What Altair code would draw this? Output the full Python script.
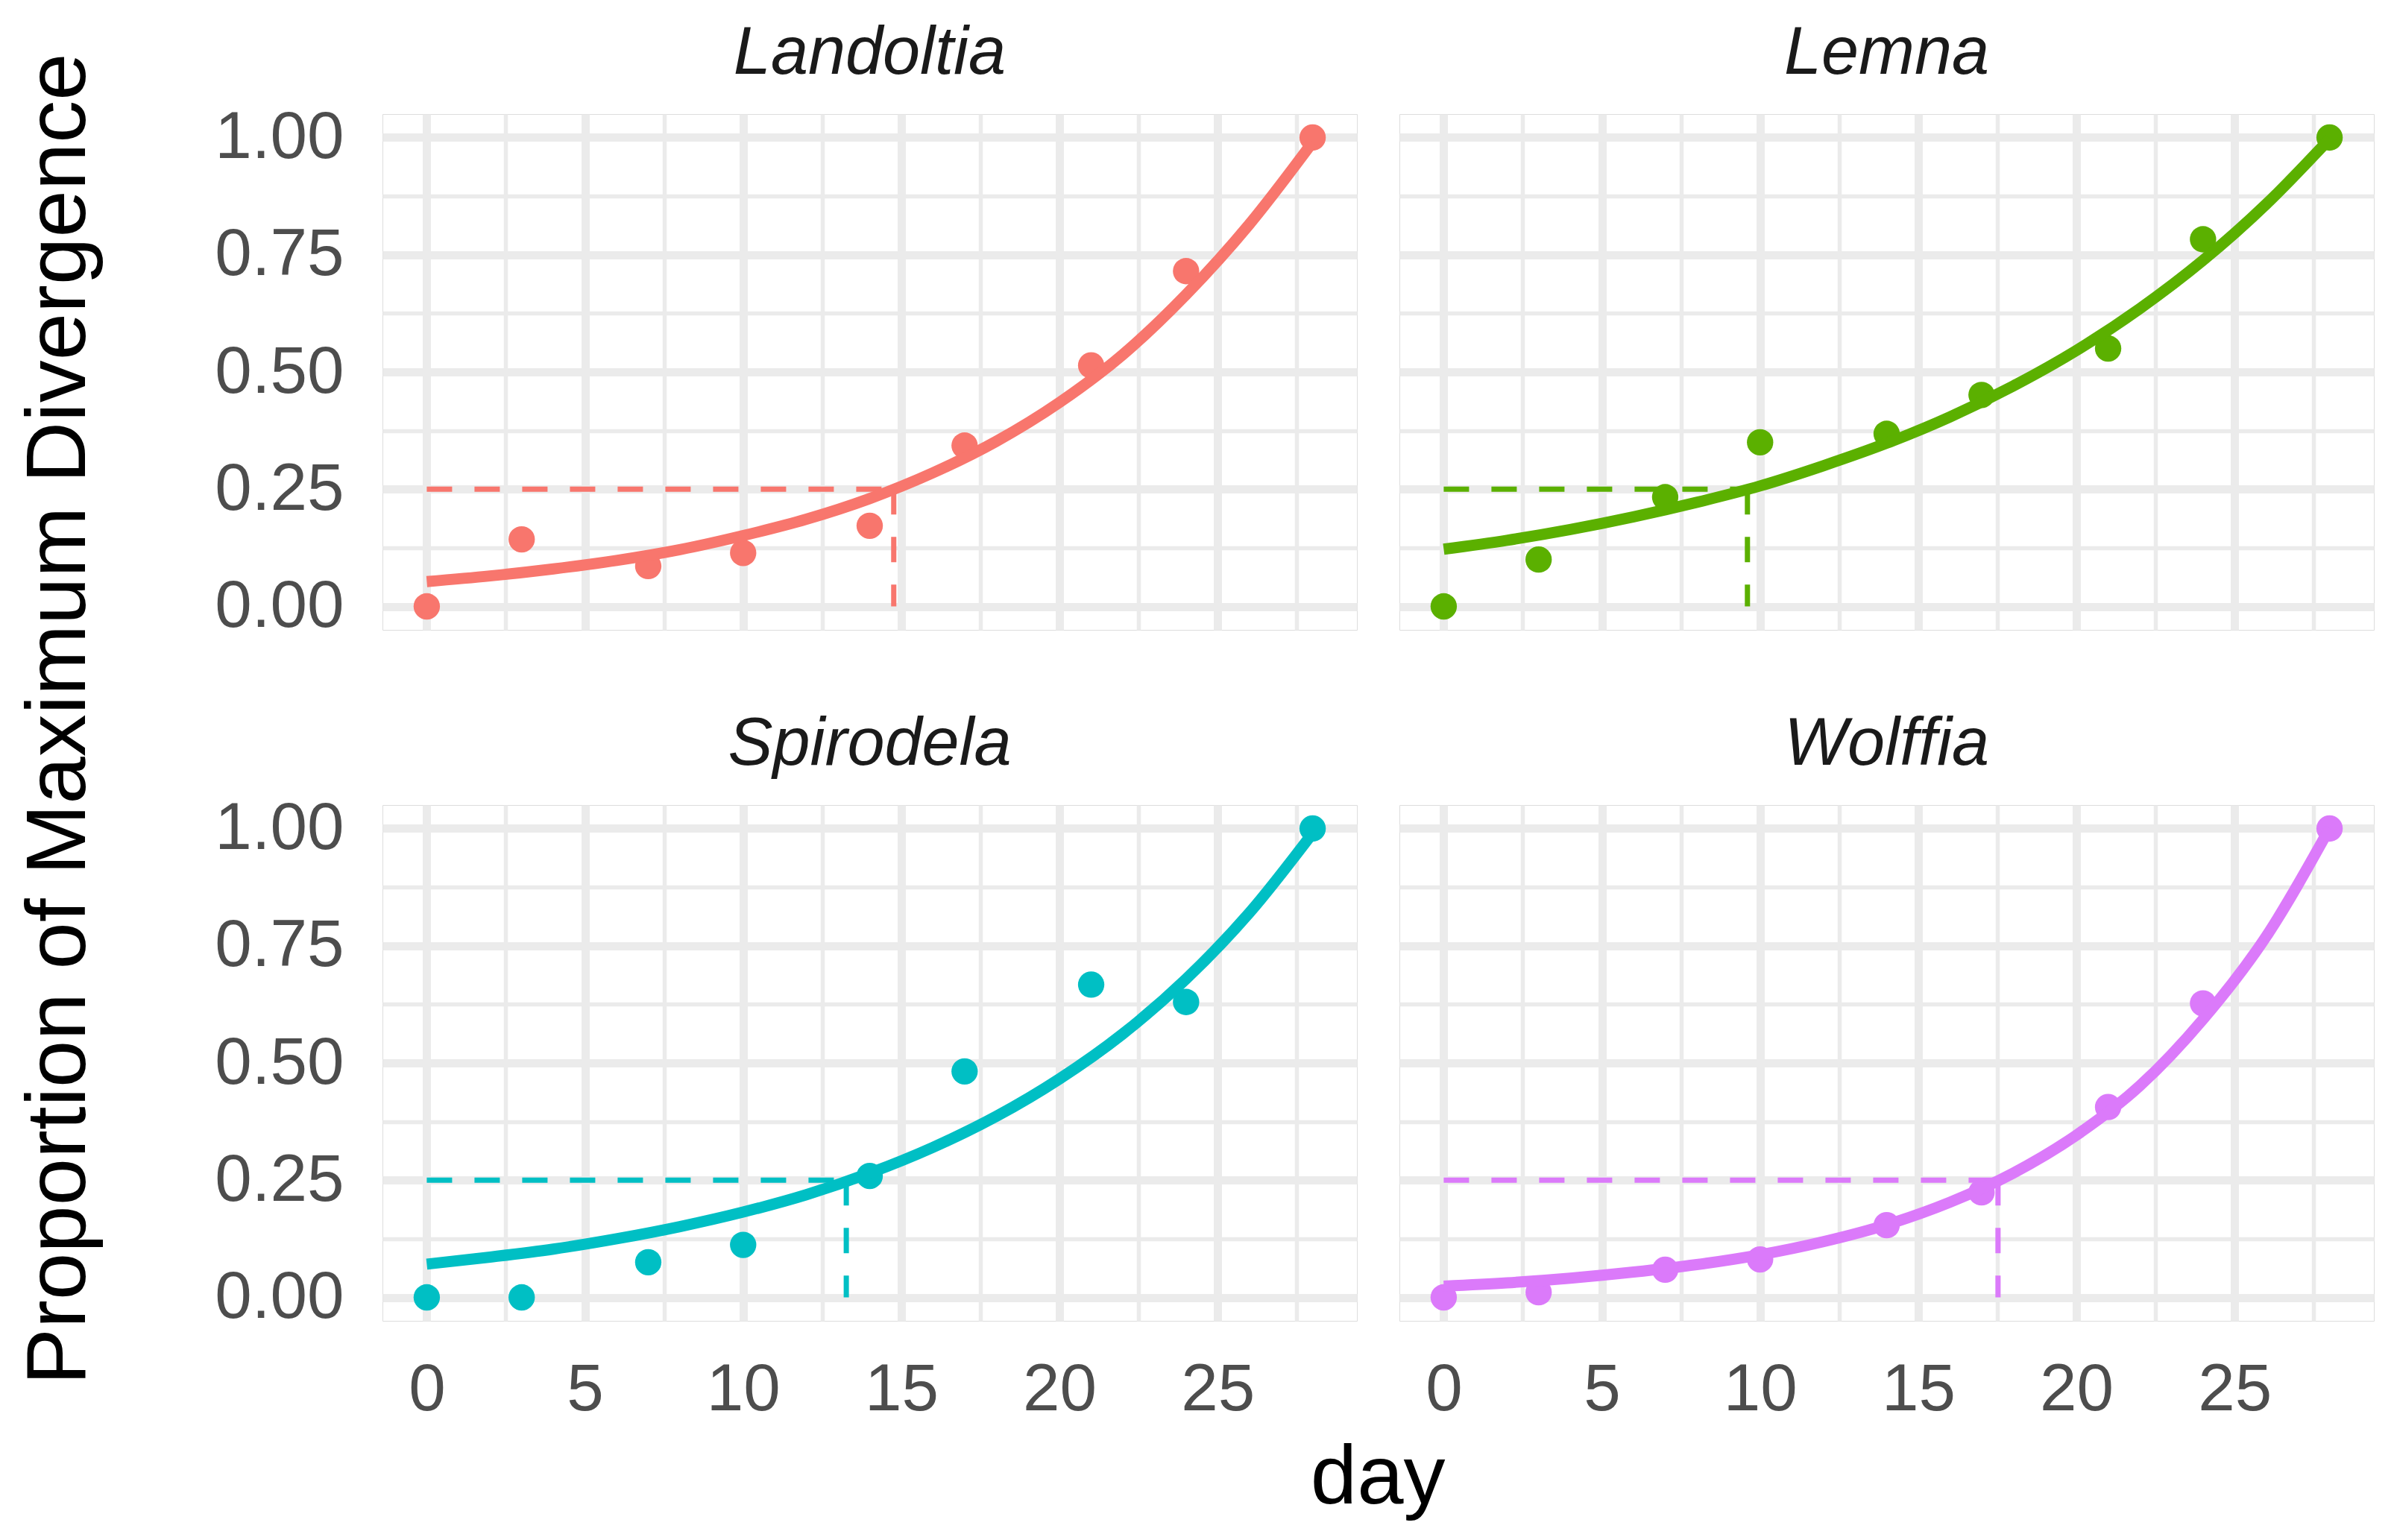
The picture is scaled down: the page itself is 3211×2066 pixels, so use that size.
"""Proportion of maximum divergence over time, one panel per duckweed genus."""

import altair as alt
import pandas as pd

# Panels, in reading order, and their colours
species = ["Landoltia", "Lemna", "Spirodela", "Wolffia"]
colors = ["#F8766D", "#5BB000", "#00BFC4", "#DB7AFA"]

# Observed proportions (sampling days)
obs_days = [0, 3, 7, 10, 14, 17, 21, 24, 28]
landoltia_obs = [0.0, 0.143, 0.086, 0.114, 0.172, 0.343, 0.514, 0.715, 1.0]
lemna_obs = [0.0, 0.100, 0.233, 0.350, 0.368, 0.451, 0.550, 0.783, 1.0]
spirodela_obs = [0.0, 0.0, 0.075, 0.112, 0.259, 0.482, 0.667, 0.630, 1.0]
wolffia_obs = [0.0, 0.011, 0.059, 0.081, 0.154, 0.224, 0.406, 0.627, 1.0]

# Fitted curves, every two days
fit_days = [0, 2, 4, 6, 8, 10, 12, 14, 16, 18, 20, 22, 24, 26, 28]
landoltia_fit = [0.053, 0.065, 0.080, 0.098, 0.121, 0.151, 0.186, 0.230,
                 0.285, 0.352, 0.435, 0.537, 0.665, 0.815, 0.990]
lemna_fit = [0.122, 0.141, 0.164, 0.191, 0.222, 0.257, 0.300, 0.348,
             0.404, 0.470, 0.546, 0.635, 0.738, 0.858, 0.997]
spirodela_fit = [0.071, 0.086, 0.103, 0.125, 0.151, 0.182, 0.219, 0.265,
                 0.320, 0.386, 0.466, 0.562, 0.679, 0.820, 0.990]
wolffia_fit = [0.024, 0.031, 0.041, 0.054, 0.070, 0.091, 0.119, 0.155,
               0.203, 0.265, 0.346, 0.451, 0.593, 0.770, 1.000]

# Day at which each fitted curve reaches 25 % of maximum divergence
threshold_level = 0.25
threshold_days = [14.76, 9.6, 13.26, 17.52]

# Grid / tick positions (major + minor)
x_grid = [0, 2.5, 5, 7.5, 10, 12.5, 15, 17.5, 20, 22.5, 25, 27.5]
y_grid = [0, 0.125, 0.25, 0.375, 0.5, 0.625, 0.75, 0.875, 1.0]

observed = [landoltia_obs, lemna_obs, spirodela_obs, wolffia_obs]
fitted = [landoltia_fit, lemna_fit, spirodela_fit, wolffia_fit]

rows = []
for sp, obs, fit, thr in zip(species, observed, fitted, threshold_days):
    for d, v in zip(obs_days, obs):
        rows.append({"species": sp, "kind": "obs", "day": d, "value": v})
    for d, v in zip(fit_days, fit):
        rows.append({"species": sp, "kind": "fit", "day": d, "value": v})
    rows.append({"species": sp, "kind": "thr", "day": 0, "value": threshold_level,
                 "day2": thr, "zero": 0})
df = pd.DataFrame(rows)

FONT = "Liberation Sans"
GRID = "#EBEBEB"

x_scale = alt.Scale(domain=[-1.4, 29.4], nice=False, zero=False)
y_scale = alt.Scale(domain=[-0.05, 1.05], nice=False, zero=False)

x_axis = alt.Axis(
    values=x_grid,
    labelExpr="datum.value % 5 === 0 ? datum.label : ''",
    format="d",
    title=None,
    domain=False,
    ticks=False,
    tickSize=0,
    labelOverlap=False,
    labelFlush=False,
    labelFont=FONT,
    labelFontSize=89,
    labelColor="#4D4D4D",
    labelPadding=48,
    gridColor=GRID,
    gridWidth={"condition": {"test": "datum.value % 5 === 0", "value": 11}, "value": 5.5},
)
y_axis = alt.Axis(
    values=y_grid,
    labelExpr="(datum.value * 4) % 1 === 0 ? datum.label : ''",
    format=".2f",
    title=None,
    domain=False,
    ticks=False,
    tickSize=0,
    labelOverlap=False,
    labelFlush=False,
    labelFont=FONT,
    labelFontSize=89,
    labelColor="#4D4D4D",
    labelPadding=51,
    gridColor=GRID,
    gridWidth={"condition": {"test": "(datum.value * 4) % 1 === 0", "value": 11}, "value": 5.5},
)

x_enc = alt.X("day:Q", scale=x_scale, axis=x_axis)
y_enc = alt.Y("value:Q", scale=y_scale, axis=y_axis)
color_enc = alt.Color("species:N", scale=alt.Scale(domain=species, range=colors), legend=None)

base = alt.Chart()

# Dashed guide lines to the 25 % crossing
thr_h = (
    base.transform_filter(alt.datum.kind == "thr")
    .mark_rule(strokeDash=[34, 30], strokeWidth=7)
    .encode(x=x_enc, x2="day2:Q", y=y_enc, color=color_enc)
)
thr_v = (
    base.transform_filter(alt.datum.kind == "thr")
    .mark_rule(strokeDash=[34, 30], strokeWidth=7)
    .encode(
        x=alt.X("day2:Q", scale=x_scale, axis=x_axis),
        y=y_enc,
        y2="zero:Q",
        color=color_enc,
    )
)

points = (
    base.transform_filter(alt.datum.kind == "obs")
    .mark_circle(size=1250, opacity=1)
    .encode(x=x_enc, y=y_enc, color=color_enc)
)

curve = (
    base.transform_filter(alt.datum.kind == "fit")
    .mark_line(strokeWidth=15, interpolate="monotone", strokeCap="butt")
    .encode(x=x_enc, y=y_enc, color=color_enc)
)

panels = (
    alt.layer(thr_h, thr_v, points, curve, data=df)
    .properties(width=1307, height=692)
    .facet(
        facet=alt.Facet(
            "species:N",
            sort=species,
            title=None,
            header=alt.Header(
                labelFont=FONT,
                labelFontSize=90,
                labelFontStyle="italic",
                labelColor="#1A1A1A",
                labelPadding=-55,
                labelBaseline="bottom",
            ),
        ),
        columns=2,
        spacing={"row": 107, "column": 55},
    )
    .properties(
        title=alt.TitleParams(
            "day",
            orient="bottom",
            anchor="middle",
            font=FONT,
            fontSize=112,
            fontWeight="normal",
            color="black",
            offset=20,
            dx=112,
        )
    )
)

chart = (
    alt.vconcat(panels)
    .properties(
        title=alt.TitleParams(
            "Proportion of Maximum Divergence",
            orient="left",
            anchor="middle",
            font=FONT,
            fontSize=114,
            fontWeight="normal",
            color="black",
            offset=150,
            dx=68,
        ),
        padding={"left": 14, "top": 18, "right": 5, "bottom": 5},
    )
    .configure_view(stroke="transparent", strokeWidth=0)
    .configure(background="white")
)

chart.save("out.html", embed_options={"renderer": "svg", "actions": False})
